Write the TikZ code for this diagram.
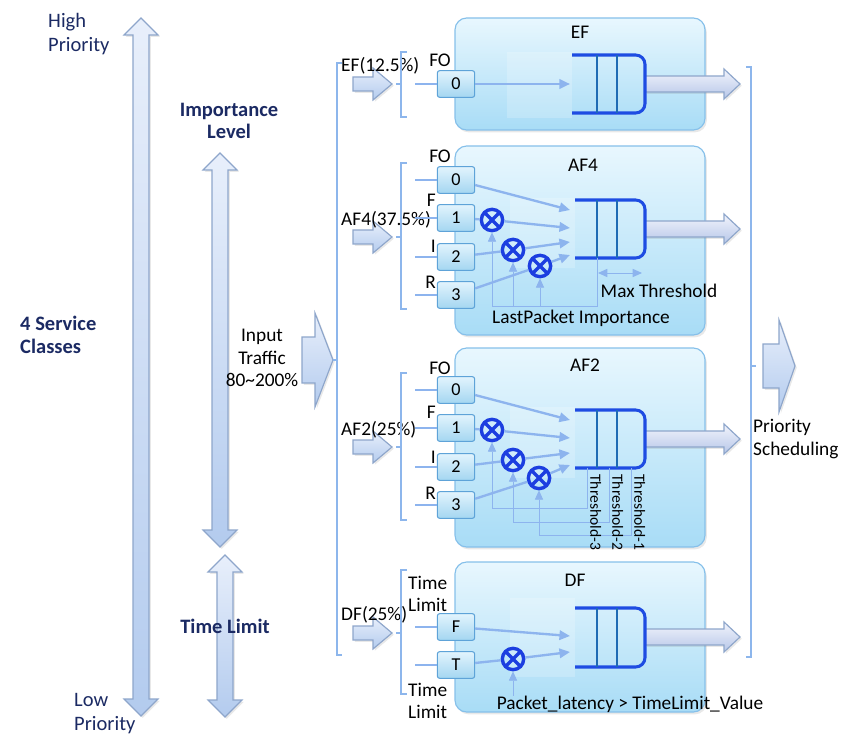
\documentclass[tikz,border=0pt]{standalone}
\usepackage{fontspec}
\setmainfont{Carlito}
\usetikzlibrary{arrows.meta,shadows}

\definecolor{navy}{HTML}{1B2A63}
\definecolor{panelline}{HTML}{86C0EA}
\definecolor{paneltop}{HTML}{E8F7FE}
\definecolor{panelbot}{HTML}{A8DCF6}
\definecolor{slottop}{HTML}{E2F4FD}
\definecolor{slotbot}{HTML}{A4D6F1}
\definecolor{slotline}{HTML}{5EA3D8}
\definecolor{flowc}{HTML}{8DB4EE}
\definecolor{queuec}{HTML}{1E4CE2}
\definecolor{queuesep}{HTML}{1F6BB4}
\definecolor{multc}{HTML}{1C3EE0}
\definecolor{blockline}{HTML}{8EA6CB}
\definecolor{blocktop}{HTML}{E8EFFB}
\definecolor{blockbot}{HTML}{B3CBEE}
\definecolor{outtop}{HTML}{F2F4FC}
\definecolor{outbot}{HTML}{B6C6E8}
\definecolor{brackc}{HTML}{8DB6EC}

% vertical double block arrow: centre x, top y, bottom y
\newcommand{\vdblarrow}[4][vblock]{%
  \draw[#1] (#2,#3) -- ++(17,17) -- ++(-9,0) -- (#2+8,#4-17) -- ++(9,0)
    -- (#2,#4) -- ++(-17,-17) -- ++(9,0) -- (#2-8,#3+17) -- ++(-9,0) -- cycle;}
% right block arrow: left x, head x, tip x, centre y, half shaft, half head
\newcommand{\rblkarrow}[7][hblock]{%
  \draw[#1] (#2,#5-#6) -- (#3,#5-#6) -- (#3,#5-#7) -- (#4,#5)
    -- (#3,#5+#7) -- (#3,#5+#6) -- (#2,#5+#6) -- cycle;}

\begin{document}
\begin{tikzpicture}[x=0.03cm,y=-0.03cm]
  \tikzstyle{txt}=[inner sep=0pt,font=\fontsize{16.5}{19.1}\selectfont]
  \tikzstyle{navytxt}=[inner sep=0pt,text=navy,font=\fontsize{17.5}{20.4}\selectfont]
  \tikzstyle{navybold}=[navytxt,font=\bfseries\fontsize{17.5}{19.5}\selectfont]
  \tikzstyle{vblock}=[draw=blockline,line width=1pt,top color=blocktop,bottom color=blockbot,drop shadow={opacity=0.18,shadow xshift=1.5pt,shadow yshift=-1.5pt}]
  \tikzstyle{hblock}=[vblock]
  \tikzstyle{outblock}=[vblock,top color=outtop,bottom color=outbot]
  \tikzstyle{panel}=[draw=panelline,line width=1pt,rounded corners=10pt,top color=paneltop,bottom color=panelbot,drop shadow={opacity=0.18,shadow xshift=1.5pt,shadow yshift=-2pt}]
  \tikzstyle{glow}=[fill=white,fill opacity=0.2]
  \tikzstyle{slot}=[draw=slotline,line width=0.9pt,rounded corners=2pt,top color=slottop,bottom color=slotbot,minimum width=1.12cm,minimum height=0.8cm,inner sep=0pt,font=\fontsize{15.5}{18}\selectfont]
  \tikzstyle{mult}=[circle,draw=multc,line width=2.9pt,minimum size=0.64cm,inner sep=0pt,path picture={\draw[multc,line width=2.9pt] (path picture bounding box.south west) -- (path picture bounding box.north east) (path picture bounding box.north west) -- (path picture bounding box.south east);}]
  \tikzstyle{queue}=[draw=queuec,line width=2.6pt,rounded corners=8pt]
  \tikzstyle{qsep}=[draw=queuesep,line width=1.8pt]
  \tikzstyle{brk}=[draw=brackc,line width=1.6pt]
  \tikzstyle{feed}=[draw=flowc,line width=2pt]
  \tikzstyle{flow}=[feed,-{Triangle[length=9pt,width=8pt]}]
  \tikzstyle{fb}=[draw=flowc,line width=0.8pt]
  \tikzstyle{fbarrow}=[fb,-{Triangle[length=8pt,width=7pt]}]
  \tikzstyle{thr}=[inner sep=0pt,rotate=-90,anchor=south west,font=\fontsize{13.3}{15}\selectfont]

  \useasboundingbox (0,0) rectangle (841,736);

  % axes on the left
  \vdblarrow{141}{18}{716}
  \vdblarrow{220}{153}{547}
  \vdblarrow{225}{555}{717}
  \node[navytxt,anchor=west,align=left] (hp) at (48,34) {High\\Priority};
  \node[navybold,align=center] (il) at (229,121) {Importance\\Level};
  \node[navybold,anchor=west,align=left] (sc) at (20,335) {4 Service\\Classes};
  \node[navybold] (tl) at (225,626) {Time Limit};
  \node[navytxt,anchor=west,align=left] (lp) at (74,714) {Low\\Priority};

  \node[txt,align=center] (in) at (262,358) {Input\\Traffic\\80\textasciitilde200\%};
  \rblkarrow{302}{315}{333}{360}{23}{47}
  \draw[brk] (342,63) -- (337,63) -- (337,655) -- (342,655) (337,360) -- (333,360);

  \draw[brk] (746,67) -- (751,67) -- (751,657) -- (746,657) (751,366) -- (756,366);
  \rblkarrow{763}{779}{795}{366}{22}{46}
  \node[txt,anchor=west,align=left] (ps) at (753,439) {Priority\\Scheduling};

  \draw[panel] (455,18) rectangle (705,130);
  \draw[panel] (455,146) rectangle (705,335);
  \draw[panel] (455,348) rectangle (705,547);
  \draw[panel] (455,562) rectangle (705,712);

  % EF
  \fill[glow] (507,52) rectangle (572,118);
  \node[txt] (efname) at (580,32) {EF};
  \rblkarrow{353}{373}{392}{84}{7}{16}
  \node[txt,anchor=base west] (eflbl) at (341,72) {EF(12.5\%)};
  \draw[brk] (407,52) -- (401,52) -- (401,117) -- (407,117) (401,84) -- (396,84);
  \node[slot] (ef0) at (456,84) {0};
  \node[txt,anchor=base] at (440,67) {FO};
  \draw[feed] (415,84) -- (ef0);
  \coordinate (qe1) at (570,84);
  \draw[flow] (ef0) -- (qe1);
  \rblkarrow[outblock]{645}{724}{740}{84}{8}{15}
  \draw[queue] (572,55) -- (645,55) -- (645,113) -- (572,113);
  \draw[qsep] (597,55) -- (597,113) (617,55) -- (617,113);

  % AF4
  \fill[glow] (510,198) rectangle (575,268);
  \node[txt] (af4name) at (583,165) {AF4};
  \rblkarrow{353}{373}{392}{237}{7}{16}
  \node[txt,anchor=base west] (af4lbl) at (341,226) {AF4(37.5\%)};
  \draw[brk] (407,163) -- (401,163) -- (401,309) -- (407,309) (401,237) -- (396,237);
  \foreach \i/\y in {0/180,1/218,2/257,3/295}{
    \node[slot] (f4\i) at (456,\y) {\i};
    \draw[feed] (415,\y) -- (f4\i);
  }
  \node[txt,anchor=base] at (440,163) {FO};
  \node[txt,anchor=base east] at (436,207) {F};
  \node[txt,anchor=base east] at (436,252) {I};
  \node[txt,anchor=base east] at (436,289) {R};
  \node[mult] (x41) at (492,220) {};
  \node[mult] (x42) at (513,250) {};
  \node[mult] (x43) at (540,266) {};
  \coordinate (q41) at (570,210);
  \coordinate (q42) at (570,228);
  \coordinate (q43) at (570,242);
  \coordinate (q44) at (570,255);
  \draw[flow] (f40) -- (q41);
  \draw[feed] (f41) -- (x41); \draw[flow] (x41) -- (q42);
  \draw[feed] (f42) -- (x42); \draw[flow] (x42) -- (q43);
  \draw[feed] (f43) -- (x43); \draw[flow] (x43) -- (q44);
  \rblkarrow[outblock]{645}{724}{740}{229}{8}{15}
  \draw[queue] (575,200) -- (645,200) -- (645,258) -- (575,258);
  \draw[qsep] (597,200) -- (597,258) (617,200) -- (617,258);
  \coordinate (lp4) at (597,306);
  \draw[fbarrow] (597,258) -- (lp4) -| (x41);
  \draw[fbarrow] (x42 |- lp4) -- (x42);
  \draw[fbarrow] (x43 |- lp4) -- (x43);
  \draw[fb,{Triangle[length=8pt,width=7pt]}-{Triangle[length=8pt,width=7pt]}] (598,273) -- (642,273);
  \node[txt] (maxthr) at (659,291) {Max Threshold};
  \node[txt] (lpi) at (581,318) {LastPacket Importance};

  % AF2
  \fill[glow] (510,407) rectangle (575,478);
  \node[txt] (af2name) at (585,365) {AF2};
  \rblkarrow{353}{373}{392}{447}{7}{16}
  \node[txt,anchor=base west] (af2lbl) at (341,435) {AF2(25\%)};
  \draw[brk] (407,373) -- (401,373) -- (401,520) -- (407,520) (401,447) -- (396,447);
  \foreach \i/\y in {0/390,1/428,2/467,3/505}{
    \node[slot] (f2\i) at (456,\y) {\i};
    \draw[feed] (415,\y) -- (f2\i);
  }
  \node[txt,anchor=base] at (440,374) {FO};
  \node[txt,anchor=base east] at (436,418) {F};
  \node[txt,anchor=base east] at (436,463) {I};
  \node[txt,anchor=base east] at (436,499) {R};
  \node[mult] (x21) at (492,430) {};
  \node[mult] (x22) at (513,460) {};
  \node[mult] (x23) at (539,478) {};
  \coordinate (q21) at (570,420);
  \coordinate (q22) at (570,438);
  \coordinate (q23) at (570,453);
  \coordinate (q24) at (570,465);
  \draw[flow] (f20) -- (q21);
  \draw[feed] (f21) -- (x21); \draw[flow] (x21) -- (q22);
  \draw[feed] (f22) -- (x22); \draw[flow] (x22) -- (q23);
  \draw[feed] (f23) -- (x23); \draw[flow] (x23) -- (q24);
  \rblkarrow[outblock]{645}{724}{740}{439}{8}{15}
  \draw[queue] (575,410) -- (645,410) -- (645,468) -- (575,468);
  \draw[qsep] (597,410) -- (597,468) (617,410) -- (617,468);
  \draw[fbarrow] (587,468) -- (587,508) -| (x21);
  \draw[fbarrow] (609,468) -- (609,522) -| (x22);
  \draw[fbarrow] (631,468) -- (631,535) -| (x23);
  \node[thr] (th3) at (590,474) {Threshold-3};
  \node[thr] (th2) at (612,474) {Threshold-2};
  \node[thr] (th1) at (634,474) {Threshold-1};

  % DF
  \fill[glow] (510,598) rectangle (575,677);
  \node[txt] (dfname) at (575,580) {DF};
  \rblkarrow{353}{373}{392}{633}{7}{16}
  \node[txt,anchor=base west] (dflbl) at (341,620) {DF(25\%)};
  \draw[brk] (407,570) -- (401,570) -- (401,694) -- (407,694) (401,633) -- (396,633);
  \node[slot] (dff) at (456,627) {F};
  \node[slot] (dft) at (456,665) {T};
  \draw[feed] (415,627) -- (dff);
  \draw[feed] (415,665) -- (dft);
  \node[txt,anchor=north west,align=left] at (408,576) {Time\\Limit};
  \node[txt,anchor=north west,align=left] at (408,683) {Time\\Limit};
  \node[mult] (xd) at (513,659) {};
  \coordinate (qd1) at (570,636);
  \coordinate (qd2) at (570,652);
  \draw[flow] (dff) -- (qd1);
  \draw[feed] (dft) -- (xd); \draw[flow] (xd) -- (qd2);
  \rblkarrow[outblock]{645}{724}{740}{637}{8}{15}
  \draw[queue] (575,608) -- (645,608) -- (645,667) -- (575,667);
  \draw[qsep] (597,608) -- (597,667) (617,608) -- (617,667);
  \node[txt] (lat) at (630,704) {Packet\_latency > TimeLimit\_Value};
  \draw[fbarrow] (xd |- lat.north) -- (xd);
\end{tikzpicture}
\end{document}
